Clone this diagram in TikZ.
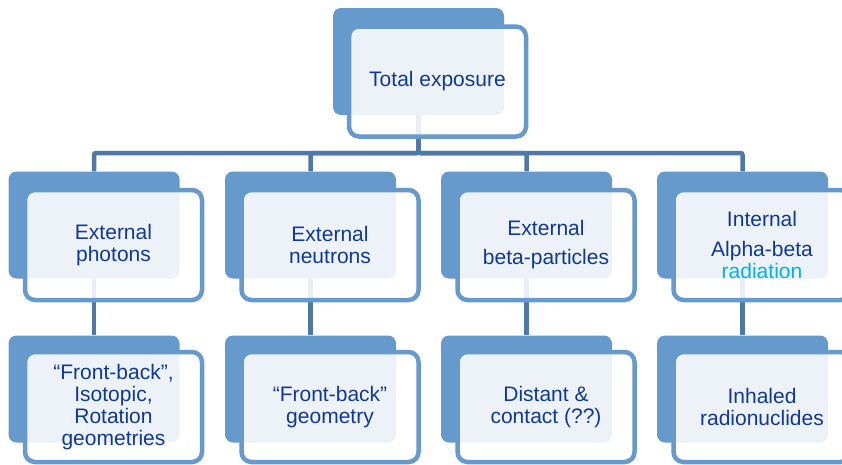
\documentclass[tikz,border=0pt]{standalone}
\usepackage{fontspec}
\setmainfont{Liberation Sans}
\definecolor{boxblue}{HTML}{6699CC}
\definecolor{linkblue}{HTML}{4E79A5}
\definecolor{textblue}{HTML}{10389A}
\definecolor{cyanish}{HTML}{00B0F0}
\tikzset{
  backbox/.style={fill=boxblue,rounded corners=8pt,minimum width=171pt,minimum height=107pt,inner sep=0pt},
  frontbox/.style={draw=boxblue,line width=4.5pt,fill=white,fill opacity=0.88,text opacity=1,
    rounded corners=10pt,minimum width=177pt,minimum height=110pt,inner sep=0pt,
    align=center,text=textblue,font=\fontsize{21}{22}\selectfont},
  link/.style={draw=linkblue,line width=4.5pt,rounded corners=2pt}
}
\begin{document}
\begin{tikzpicture}[x=1pt,y=-1pt]
  \useasboundingbox (0,0) rectangle (842,464);

  % back plates
  \node[backbox] (tot) at (418.5,61.5) {};
  \node[backbox] (pho) at (94,225) {};
  \node[backbox] (neu) at (310.5,225) {};
  \node[backbox] (bet) at (526.5,225) {};
  \node[backbox] (int) at (742.5,225) {};
  \node[backbox] (pgeo) at (94,389) {};
  \node[backbox] (ngeo) at (310.5,389) {};
  \node[backbox] (bcon) at (526.5,389) {};
  \node[backbox] (inh) at (742.5,389) {};

  % connectors
  \coordinate (bus) at (0,153);
  \foreach \to in {pho,neu,bet,int}
    \draw[link] (tot.south) -- (tot.south |- bus) -| (\to.north);
  \draw[link] (pho.south) -- (pgeo.north);
  \draw[link] (neu.south) -- (ngeo.north);
  \draw[link] (bet.south) -- (bcon.north);
  \draw[link] (int.south) -- (inh.north);

  % front boxes with text
  \node[frontbox] (totf) at (437.5,81.5) {Total exposure};
  \node[frontbox] (phof) at (113.5,245) {External\\photons};
  \node[frontbox] (neuf) at (330,245) {External\\neutrons};
  \node[frontbox] (betf) at (546,245) {External\\[7pt]beta-particles};
  \node[frontbox] (intf) at (762,245) {Internal\\[8pt]Alpha-beta\\\textcolor{cyanish}{radiation}};
  \node[frontbox] (pgeof) at (113.5,407) {“Front-back”,\\Isotopic,\\Rotation\\geometries};
  \node[frontbox] (ngeof) at (330,407) {“Front-back”\\geometry};
  \node[frontbox] (bconf) at (546,407) {Distant \&\\contact (??)};
  \node[frontbox] (inhf) at (762,407) {Inhaled\\radionuclides};
\end{tikzpicture}
\end{document}
